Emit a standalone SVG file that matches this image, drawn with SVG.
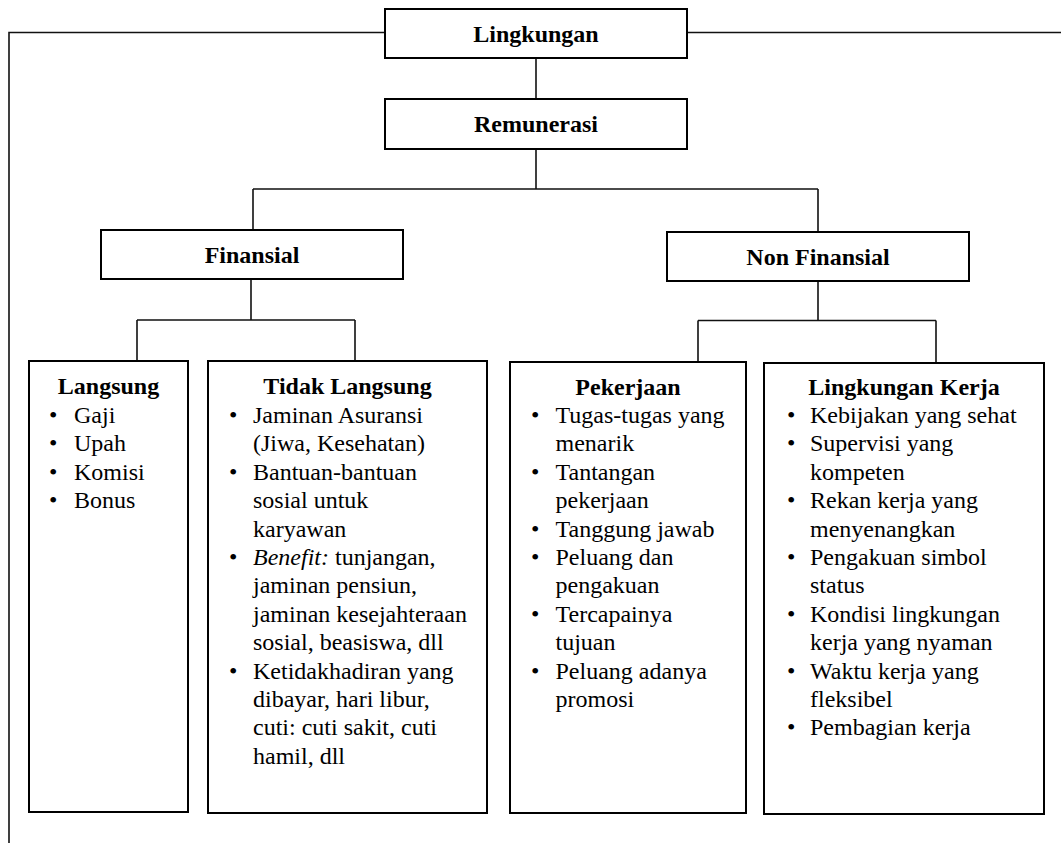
<svg xmlns="http://www.w3.org/2000/svg" width="1061" height="843" viewBox="0 0 1061 843">
<style>
.box{fill:#fff;stroke:#000;stroke-width:2}
.ln{fill:none;stroke:#111;stroke-width:1.6}
.h{font-family:"Liberation Serif","Times New Roman",serif;font-size:24px;font-weight:bold;text-anchor:middle;fill:#000}
.t{font-family:"Liberation Serif","Times New Roman",serif;font-size:24px;fill:#000}
</style>
<rect width="1061" height="843" fill="#fff"/>
<g id="connectors">
<path class="ln" d="M9,843 V32.5 H385 M687,32.5 H1061"/>
<path class="ln" d="M536,58 V99 M536,149 V189 M253,189 H818 M253,189 V230 M818,189 V232"/>
<path class="ln" d="M251,279 V320 M137,320 H355 M137,320 V361 M355,320 V361"/>
<path class="ln" d="M818,281 V320.5 M698,320.5 H936 M698,320.5 V362 M936,320.5 V363"/>
</g>
<g id="lingkungan">
<rect class="box" x="385" y="9" width="302" height="49"/>
<text class="h" x="536" y="42">Lingkungan</text>
</g>
<g id="remunerasi">
<rect class="box" x="385" y="99" width="302" height="50"/>
<text class="h" x="536" y="132">Remunerasi</text>
</g>
<g id="finansial">
<rect class="box" x="101" y="230" width="302" height="49"/>
<text class="h" x="252" y="263">Finansial</text>
</g>
<g id="non-finansial">
<rect class="box" x="667" y="232" width="302" height="49"/>
<text class="h" x="818" y="265">Non Finansial</text>
</g>
<g id="langsung">
<rect class="box" x="29" y="361" width="159" height="451"/>
<text class="h" x="108.5" y="394">Langsung</text>
<text class="t">
<tspan x="49" y="423">•</tspan><tspan x="74" y="423">Gaji</tspan>
<tspan x="49" y="451.4">•</tspan><tspan x="74" y="451.4">Upah</tspan>
<tspan x="49" y="479.8">•</tspan><tspan x="74" y="479.8">Komisi</tspan>
<tspan x="49" y="508.2">•</tspan><tspan x="74" y="508.2">Bonus</tspan>
</text>
</g>
<g id="tidak-langsung">
<rect class="box" x="208" y="361" width="279" height="452"/>
<text class="h" x="347.5" y="394">Tidak Langsung</text>
<text class="t">
<tspan x="229" y="423">•</tspan><tspan x="253" y="423">Jaminan Asuransi</tspan>
<tspan x="253" y="451.4">(Jiwa, Kesehatan)</tspan>
<tspan x="229" y="479.8">•</tspan><tspan x="253" y="479.8">Bantuan-bantuan</tspan>
<tspan x="253" y="508.2">sosial untuk</tspan>
<tspan x="253" y="536.6">karyawan</tspan>
<tspan x="229" y="565">•</tspan><tspan x="253" y="565" font-style="italic">Benefit:</tspan><tspan> tunjangan,</tspan>
<tspan x="253" y="593.4">jaminan pensiun,</tspan>
<tspan x="253" y="621.8">jaminan kesejahteraan</tspan>
<tspan x="253" y="650.2">sosial, beasiswa, dll</tspan>
<tspan x="229" y="678.6">•</tspan><tspan x="253" y="678.6">Ketidakhadiran yang</tspan>
<tspan x="253" y="707">dibayar, hari libur,</tspan>
<tspan x="253" y="735.4">cuti: cuti sakit, cuti</tspan>
<tspan x="253" y="763.8">hamil, dll</tspan>
</text>
</g>
<g id="pekerjaan">
<rect class="box" x="510" y="362" width="236" height="451"/>
<text class="h" x="628" y="395">Pekerjaan</text>
<text class="t">
<tspan x="531" y="423">•</tspan><tspan x="555.5" y="423">Tugas-tugas yang</tspan>
<tspan x="555.5" y="451.4">menarik</tspan>
<tspan x="531" y="479.8">•</tspan><tspan x="555.5" y="479.8">Tantangan</tspan>
<tspan x="555.5" y="508.2">pekerjaan</tspan>
<tspan x="531" y="536.6">•</tspan><tspan x="555.5" y="536.6">Tanggung jawab</tspan>
<tspan x="531" y="565">•</tspan><tspan x="555.5" y="565">Peluang dan</tspan>
<tspan x="555.5" y="593.4">pengakuan</tspan>
<tspan x="531" y="621.8">•</tspan><tspan x="555.5" y="621.8">Tercapainya</tspan>
<tspan x="555.5" y="650.2">tujuan</tspan>
<tspan x="531" y="678.6">•</tspan><tspan x="555.5" y="678.6">Peluang adanya</tspan>
<tspan x="555.5" y="707">promosi</tspan>
</text>
</g>
<g id="lingkungan-kerja">
<rect class="box" x="764" y="363" width="280" height="451"/>
<text class="h" x="904" y="395">Lingkungan Kerja</text>
<text class="t">
<tspan x="787" y="423">•</tspan><tspan x="810" y="423">Kebijakan yang sehat</tspan>
<tspan x="787" y="451.4">•</tspan><tspan x="810" y="451.4">Supervisi yang</tspan>
<tspan x="810" y="479.8">kompeten</tspan>
<tspan x="787" y="508.2">•</tspan><tspan x="810" y="508.2">Rekan kerja yang</tspan>
<tspan x="810" y="536.6">menyenangkan</tspan>
<tspan x="787" y="565">•</tspan><tspan x="810" y="565">Pengakuan simbol</tspan>
<tspan x="810" y="593.4">status</tspan>
<tspan x="787" y="621.8">•</tspan><tspan x="810" y="621.8">Kondisi lingkungan</tspan>
<tspan x="810" y="650.2">kerja yang nyaman</tspan>
<tspan x="787" y="678.6">•</tspan><tspan x="810" y="678.6">Waktu kerja yang</tspan>
<tspan x="810" y="707">fleksibel</tspan>
<tspan x="787" y="735.4">•</tspan><tspan x="810" y="735.4">Pembagian kerja</tspan>
</text>
</g>
</svg>
